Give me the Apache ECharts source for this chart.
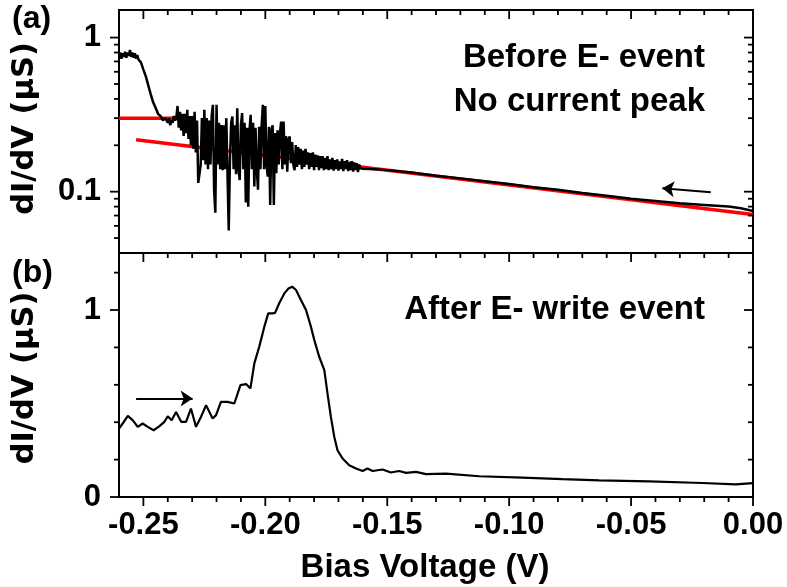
<!DOCTYPE html>
<html>
<head>
<meta charset="utf-8">
<script src="https://cdn.jsdelivr.net/npm/echarts@6/dist/echarts.min.js"></script>
<style>
html,body{margin:0;padding:0;background:#fff;}
#chart{width:787px;height:587px;}
</style>
</head>
<body>
<div id="chart"></div>
<script>
// ---------------- data ----------------
const X_MIN = -0.26, X_MAX = 0;
const Y_TOP_MIN = 0.04, Y_TOP_MAX = 1.51;
const Y_BOT_MIN = 0, Y_BOT_MAX = 1.305;

const xMajorTicks = [-0.25, -0.20, -0.15, -0.10, -0.05, 0];
const xTickLabels = ['-0.25', '-0.20', '-0.15', '-0.10', '-0.05', '0.00'];
const xMinorTicks = [-0.24, -0.23, -0.22, -0.21, -0.19, -0.18, -0.17, -0.16, -0.14, -0.13, -0.12, -0.11,
                     -0.09, -0.08, -0.07, -0.06, -0.04, -0.03, -0.02, -0.01];
const logMajorTicks = [0.1, 1];
const logTickLabels = ['0.1', '1'];
const logMinorTicks = [0.05, 0.06, 0.07, 0.08, 0.09, 0.2, 0.3, 0.4, 0.5, 0.6, 0.7, 0.8, 0.9];
const linMajorTicks = [0, 1];
const linTickLabels = ['0', '1'];
const linMinorTicks = [0.2, 0.4, 0.6, 0.8, 1.2];

// (a) black curve: start of sweep (V, uS)
const topStartVolt = [-0.2600, -0.2595, -0.2590, -0.2585, -0.2580, -0.2575, -0.2570, -0.2565, -0.2560, -0.2555,
                      -0.2550, -0.2545, -0.2540, -0.2535, -0.2530, -0.2525, -0.2520, -0.2510,
                      -0.2500, -0.2490, -0.2480, -0.2470, -0.2460, -0.2450, -0.2440, -0.2430, -0.2420, -0.2410,
                      -0.2400, -0.2395, -0.2390, -0.2385, -0.2380, -0.2375, -0.2370];
const topStartCond = [0.74, 0.80, 0.73, 0.79, 0.75, 0.81, 0.74, 0.80, 0.76, 0.83,
                      0.75, 0.80, 0.74, 0.79, 0.73, 0.77, 0.72, 0.69,
                      0.62, 0.56, 0.49, 0.43, 0.38, 0.35, 0.32, 0.31, 0.29, 0.30,
                      0.28, 0.30, 0.27, 0.29, 0.28, 0.31, 0.29];
// (a) noisy segment, sampled every 0.0005 V from -0.2365 V
const noisyStartVolt = -0.2365, noisyStepVolt = 0.0005;
const noisyCond = [
  0.30, 0.36, 0.26, 0.33, 0.25, 0.32, 0.23, 0.32, 0.24, 0.34,
  0.22, 0.31, 0.20, 0.31, 0.19, 0.33, 0.18, 0.29, 0.114, 0.113,
  0.149, 0.30, 0.16, 0.34, 0.15, 0.30, 0.14, 0.29, 0.15, 0.31,
  0.366, 0.103, 0.073, 0.366, 0.15, 0.28, 0.14, 0.271, 0.138, 0.27,
  0.14, 0.30, 0.13, 0.056, 0.16, 0.28, 0.307, 0.14, 0.27, 0.13,
  0.348, 0.14, 0.119, 0.27, 0.324, 0.14, 0.28, 0.085, 0.26, 0.080,
  0.25, 0.315, 0.14, 0.28, 0.108, 0.26, 0.14, 0.103, 0.264, 0.14,
  0.27, 0.366, 0.14, 0.36, 0.15, 0.125, 0.264, 0.082, 0.25, 0.27,
  0.082, 0.24, 0.132, 0.25, 0.15, 0.24, 0.285, 0.14, 0.285, 0.15,
  0.23, 0.135, 0.22, 0.228, 0.153, 0.21, 0.15, 0.138, 0.201, 0.145,
  0.195, 0.15, 0.19, 0.14, 0.185, 0.145, 0.19, 0.15, 0.18, 0.14,
  0.178, 0.145, 0.18, 0.138, 0.174, 0.145, 0.172, 0.138, 0.17, 0.142,
  0.17, 0.138, 0.166, 0.14, 0.17, 0.138, 0.162, 0.14, 0.166, 0.137,
  0.16, 0.14, 0.162, 0.137, 0.157, 0.14, 0.163, 0.136, 0.158, 0.14,
  0.16, 0.136, 0.156, 0.138, 0.158, 0.135, 0.155, 0.138, 0.153, 0.134,
  0.15, 0.142
];
// (a) smooth tail of the sweep
const topTailVolt = [-0.160, -0.155, -0.150, -0.140, -0.130, -0.120, -0.110, -0.100, -0.090, -0.080,
                     -0.070, -0.060, -0.050, -0.040, -0.030, -0.020, -0.010, -0.005, 0.000];
const topTailCond = [0.141, 0.140, 0.138, 0.133, 0.127, 0.122, 0.117, 0.112, 0.107, 0.103,
                     0.098, 0.094, 0.090, 0.087, 0.084, 0.082, 0.080, 0.078, 0.075];
// (a) red guide lines
const redFlatVolt = [-0.260, -0.235];
const redFlatCond = [0.30, 0.30];
const redFitVolt = [-0.253, 0.000];
const redFitCond = [0.217, 0.071];

// (b) black curve
const botVolt = [-0.2600, -0.2585, -0.2564, -0.2544, -0.2523, -0.2503, -0.2482, -0.2458, -0.2434, -0.2414,
                 -0.2400, -0.2384, -0.2366, -0.2345, -0.2325, -0.2305, -0.2284, -0.2264, -0.2243, -0.2216,
                 -0.2202, -0.2182, -0.2155, -0.2127, -0.2102, -0.2079, -0.2061, -0.2045, -0.2025, -0.2004,
                 -0.1988, -0.1970, -0.1960, -0.1943, -0.1922, -0.1905, -0.1890, -0.1874, -0.1854, -0.1833,
                 -0.1813, -0.1799, -0.1779, -0.1758, -0.1745, -0.1731, -0.1717, -0.1704, -0.1683, -0.1656,
                 -0.1628, -0.1601, -0.1581, -0.1560, -0.1519, -0.1485, -0.1451, -0.1423, -0.1382, -0.1341,
                 -0.1259, -0.1123, -0.0946, -0.0782, -0.0631, -0.0426, -0.0208, -0.0071, 0.0000];
const botCond = [0.366, 0.393, 0.434, 0.411, 0.375, 0.393, 0.375, 0.357, 0.379, 0.402,
                 0.432, 0.411, 0.455, 0.402, 0.402, 0.473, 0.375, 0.428, 0.491, 0.420,
                 0.438, 0.509, 0.509, 0.500, 0.598, 0.604, 0.581, 0.715, 0.803, 0.911,
                 0.982, 0.982, 0.985, 1.036, 1.089, 1.115, 1.125, 1.107, 1.054, 1.000,
                 0.911, 0.839, 0.750, 0.679, 0.554, 0.428, 0.321, 0.250, 0.206, 0.170,
                 0.152, 0.139, 0.152, 0.139, 0.147, 0.131, 0.139, 0.129, 0.134, 0.122,
                 0.125, 0.111, 0.104, 0.096, 0.089, 0.084, 0.075, 0.068, 0.074];

// sweep-direction arrows (tail, head) in data units
const arrowTop = [[-0.0173, 0.0991], [-0.0372, 0.1052]];
const arrowBottom = [[-0.2530, 0.527], [-0.2298, 0.527]];

// ---------------- build ----------------
const FONT = "'Liberation Sans', Arial, Helvetica, sans-serif";
const zip = (a, b) => a.map((v, i) => [v, b[i]]);

const topBlack = zip(topStartVolt, topStartCond)
  .concat(noisyCond.map((c, i) => [+(noisyStartVolt + i * noisyStepVolt).toFixed(4), c]))
  .concat(zip(topTailVolt, topTailCond));

function findLabel(v, ticks, labels, rel) {
  for (let i = 0; i < ticks.length; i++) {
    const tol = rel ? Math.abs(ticks[i]) * 1e-6 + 1e-9 : 1e-6;
    if (Math.abs(v - ticks[i]) < tol) return labels[i];
  }
  return '';
}

// tick items: [x, y, isMajor, isYTick]
function xTickItems(yEdge) {
  return xMajorTicks.map(v => [v, yEdge, 1, 0]).concat(xMinorTicks.map(v => [v, yEdge, 0, 0]));
}
function yTickItems(major, minor) {
  const out = [];
  [X_MIN, X_MAX].forEach(xe => {
    major.forEach(v => out.push([xe, v, 1, 1]));
    minor.forEach(v => out.push([xe, v, 0, 1]));
  });
  return out;
}
const ticksTop = xTickItems(Y_TOP_MAX).concat(yTickItems(logMajorTicks, logMinorTicks));
const ticksBot = xTickItems(Y_BOT_MIN).concat(xTickItems(Y_BOT_MAX)).concat(yTickItems(linMajorTicks, linMinorTicks));

function renderTick(params, api) {
  const p = api.coord([api.value(0), api.value(1)]);
  const len = api.value(2) ? 9 : 5;
  const isY = api.value(3);
  return {
    type: 'line',
    shape: isY ? {x1: p[0], y1: p[1], x2: p[0] - len, y2: p[1]}
               : {x1: p[0], y1: p[1], x2: p[0], y2: p[1] + len},
    style: {stroke: '#000', lineWidth: 1.8}
  };
}

const labelStyle = {color: '#000', fontFamily: FONT, fontWeight: 'bold', fontSize: 31};
const yNameBase = {color: '#000', fontFamily: "'DejaVu Sans', sans-serif", fontWeight: 'bold', fontSize: 30.5};
const yNameTop = Object.assign({padding: [0, 0, 0, 6]}, yNameBase);
const yNameBot = Object.assign({padding: [0, 6, 0, 0]}, yNameBase);

const arrowMark = (pts) => ({
  silent: true,
  symbol: ['none', 'arrow'],
  symbolSize: 12,
  label: {show: false},
  lineStyle: {color: '#000', width: 2, type: 'solid'},
  emphasis: {disabled: true},
  animation: false,
  data: [[{coord: pts[0]}, {coord: pts[1]}]]
});

const chart = echarts.init(document.getElementById('chart'), null, {renderer: 'canvas'});
chart.setOption({
  animation: false,
  backgroundColor: '#fff',
  grid: [
    {left: 119, right: 34, top: 10, height: 243, show: true, borderWidth: 2, borderColor: '#000', backgroundColor: 'transparent', outerBoundsMode: 'none', containLabel: false},
    {left: 119, right: 34, top: 253, height: 244, show: true, borderWidth: 2, borderColor: '#000', backgroundColor: 'transparent', outerBoundsMode: 'none', containLabel: false}
  ],
  xAxis: [
    {gridIndex: 0, type: 'value', min: X_MIN, max: X_MAX, interval: 0.01,
     axisLine: {show: false}, axisTick: {show: false}, axisLabel: {show: false}, splitLine: {show: false}},
    {gridIndex: 1, type: 'value', min: X_MIN, max: X_MAX, interval: 0.01,
     axisLine: {show: false}, axisTick: {show: false}, splitLine: {show: false},
     axisLabel: Object.assign({margin: 13, showMinLabel: true, showMaxLabel: true,
       formatter: v => findLabel(v, xMajorTicks, xTickLabels, false)}, labelStyle),
     name: 'Bias Voltage (V)', nameLocation: 'middle', nameGap: 54,
     nameTextStyle: {color: '#000', fontFamily: FONT, fontWeight: 'bold', fontSize: 33, padding: [0, 22, 0, 0]}}
  ],
  yAxis: [
    {gridIndex: 0, type: 'log', logBase: 10, min: Y_TOP_MIN, max: Y_TOP_MAX,
     axisLine: {show: false}, axisTick: {show: false}, splitLine: {show: false}, minorTick: {show: false},
     axisLabel: Object.assign({margin: 18, showMinLabel: false, showMaxLabel: false,
       formatter: v => findLabel(v, logMajorTicks, logTickLabels, true)}, labelStyle),
     name: 'dI/dV (\u03bcS)', nameLocation: 'middle', nameGap: 78, nameTextStyle: yNameTop},
    {gridIndex: 1, type: 'value', min: Y_BOT_MIN, max: Y_BOT_MAX, interval: 1,
     axisLine: {show: false}, axisTick: {show: false}, splitLine: {show: false},
     axisLabel: Object.assign({margin: 18, showMaxLabel: false,
       formatter: v => findLabel(v, linMajorTicks, linTickLabels, false)}, labelStyle),
     name: 'dI/dV (\u03bcS)', nameLocation: 'middle', nameGap: 78, nameTextStyle: yNameBot}
  ],
  series: [
    {name: 'fit flat', type: 'line', xAxisIndex: 0, yAxisIndex: 0, data: zip(redFlatVolt, redFlatCond),
     symbol: 'none', lineStyle: {color: '#ff0000', width: 3.5}, silent: true, z: 2},
    {name: 'fit', type: 'line', xAxisIndex: 0, yAxisIndex: 0, data: zip(redFitVolt, redFitCond),
     symbol: 'none', lineStyle: {color: '#ff0000', width: 3.5}, silent: true, z: 2},
    {name: 'before', type: 'line', xAxisIndex: 0, yAxisIndex: 0, data: topBlack,
     symbol: 'none', lineStyle: {color: '#000', width: 2.5}, silent: true, z: 3,
     markLine: arrowMark(arrowTop)},
    {name: 'after', type: 'line', xAxisIndex: 1, yAxisIndex: 1, data: zip(botVolt, botCond),
     symbol: 'none', lineStyle: {color: '#000', width: 2.2}, silent: true, z: 3,
     markLine: arrowMark(arrowBottom)},
    {name: 'ticksA', type: 'custom', xAxisIndex: 0, yAxisIndex: 0, data: ticksTop, renderItem: renderTick,
     clip: false, silent: true, z: 5},
    {name: 'ticksB', type: 'custom', xAxisIndex: 1, yAxisIndex: 1, data: ticksBot, renderItem: renderTick,
     clip: false, silent: true, z: 5}
  ],
  graphic: [
    {type: 'text', left: 12, top: 3, style: {text: '(a)', font: "bold 32px " + FONT, fill: '#000'}},
    {type: 'text', left: 12, top: 257, style: {text: '(b)', font: "bold 32px " + FONT, fill: '#000'}},
    {type: 'text', x: 705, y: 58, style: {text: 'Before E- event', font: "bold 33px " + FONT, fill: '#000', textAlign: 'right', textVerticalAlign: 'middle'}},
    {type: 'text', x: 705, y: 102, style: {text: 'No current peak', font: "bold 33px " + FONT, fill: '#000', textAlign: 'right', textVerticalAlign: 'middle'}},
    {type: 'text', x: 705, y: 310, style: {text: 'After E- write event', font: "bold 33px " + FONT, fill: '#000', textAlign: 'right', textVerticalAlign: 'middle'}}
  ]
});
</script>
</body>
</html>
